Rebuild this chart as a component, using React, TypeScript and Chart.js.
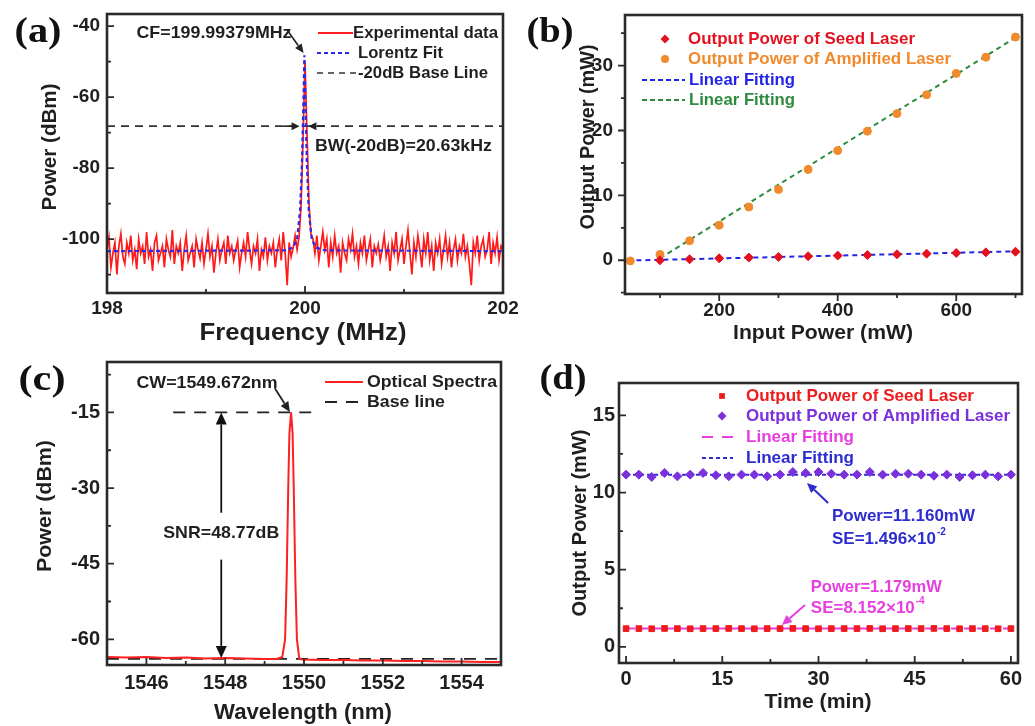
import React, { useEffect, useRef } from "react";
import { Chart, registerables } from "chart.js";

Chart.register(...registerables);

const PAGE_W = 1035;
const PAGE_H = 726;
const SANS = '"Liberation Sans", Arial, Helvetica, sans-serif';
const SERIF = '"Liberation Serif", "Times New Roman", serif';
const INK = "#1f1f1f";

// ---------- (a) RF beat-note spectrum ----------
const RF_FREQ_TICKS = [198, 200, 202];
const RF_POWER_TICKS = [-100, -80, -60, -40];
const RF_START_MHZ = 198;
const RF_STEP_MHZ = 0.02;
const RF_POWER_DBM = [
  -103, -99.5, -108, -104, -101, -110, -102, -98.5, -105, -107,
  -101, -104, -99, -106, -103, -108.5, -100, -104, -102, -107,
  -98, -105, -103, -109, -101, -99, -106, -104, -102, -108,
  -100, -103, -105, -97.5, -107, -102, -104, -101, -109, -103,
  -99, -106, -104, -102, -108, -100, -103, -105.5, -101, -107,
  -103, -98.5, -105, -102, -109.5, -104, -100, -106, -103, -101,
  -107, -99, -104, -102, -106, -103, -100.5, -108, -104, -101,
  -105, -98, -103, -107, -102, -104, -100, -109, -103, -105,
  -99.5, -106, -102, -104, -101, -108, -103, -100, -106, -98,
  -104, -113, -101, -105, -102.5, -99, -103, -99.5, -91, -72,
  -50, -70, -90, -98.5, -100, -104, -99, -106, -102, -98,
  -103, -100, -108, -101, -105, -99, -104, -102, -109.5, -101,
  -104, -106, -100, -103, -98.5, -105, -102, -107, -101, -104,
  -99, -106, -103, -100, -108, -102, -104, -101.5, -106, -103,
  -99, -105, -102, -109, -101, -104, -98, -106, -103, -100,
  -107, -102, -97.5, -104, -110, -101, -105, -99, -103, -108,
  -100, -104, -98, -106, -102, -109, -101, -104, -100, -107,
  -103, -99, -105, -101, -108, -103, -100, -106, -102, -104,
  -98.5, -105, -102, -107, -113, -101, -104, -99, -106, -102,
  -100, -105, -103, -98, -107, -101, -104, -99.5, -106, -102,
  -103,
];
const LORENTZ_FREQ_MHZ = [198, 199.8, 199.88, 199.92, 199.95, 199.97, 199.985, 199.994, 200.003, 200.018, 200.038, 200.068, 200.11, 200.2, 202];
const LORENTZ_POWER_DBM = [-103.4, -103.2, -102.4, -100, -92, -78, -60, -48.2, -60, -78, -92, -100, -102.4, -103.2, -103.4];
const RF_PEAK_MHZ = 199.99379;
const RF_PEAK_DBM = -48.2;
const RF_BASE_DBM = -68.2; // 20 dB below the peak

// ---------- (b) output power vs input power ----------
const INPUT_TICKS = [200, 400, 600];
const OUTPUT_TICKS = [0, 10, 20, 30];
const SEED_IN_MW = [100, 150, 200, 250, 300, 350, 400, 450, 500, 550, 600, 650, 700];
const SEED_OUT_MW = [0.0, 0.15, 0.3, 0.42, 0.52, 0.62, 0.72, 0.8, 0.92, 1.02, 1.12, 1.22, 1.32];
const AMP_IN_MW = [50, 100, 150, 200, 250, 300, 350, 400, 450, 500, 550, 600, 650, 700];
const AMP_OUT_MW = [-0.1, 0.9, 3.0, 5.4, 8.2, 10.9, 14.0, 16.9, 19.9, 22.6, 25.5, 28.8, 31.3, 34.4];
const SEED_FIT_IN_MW = [45, 705];
const SEED_FIT_OUT_MW = [-0.05, 1.38];
const AMP_FIT_IN_MW = [100, 705];
const AMP_FIT_OUT_MW = [0.3, 34.6];

// ---------- (c) optical spectrum ----------
const WAVELENGTH_TICKS = [1546, 1548, 1550, 1552, 1554];
const OSA_POWER_TICKS = [-60, -45, -30, -15];
const OSA_WAVELENGTH_NM = [
  1545.0, 1545.5, 1546.0, 1546.5, 1547.0, 1547.5, 1548.0, 1548.5, 1549.0, 1549.3,
  1549.45, 1549.52, 1549.56, 1549.6, 1549.63, 1549.672, 1549.71, 1549.74, 1549.78, 1549.82,
  1549.88, 1549.95, 1550.5, 1551.0, 1551.5, 1552.0, 1552.5, 1553.0, 1553.5, 1554.0, 1554.5, 1555.0,
];
const OSA_POWER_DBM = [
  -63.5, -63.6, -63.5, -63.7, -63.6, -63.8, -63.7, -63.8, -63.9, -63.9,
  -63.5, -60, -48, -30, -19, -15, -19, -30, -48, -60,
  -63.8, -64.0, -64.1, -64.1, -64.2, -64.2, -64.3, -64.3, -64.4, -64.4, -64.5, -64.5,
];
const OSA_FLOOR_DBM = -63.9;
const OSA_PEAK_DBM = -15;
const OSA_PEAK_NM = 1549.672;
const OSA_TOPLINE_NM = [1546.68, 1550.33];

// ---------- (d) power stability over one hour ----------
const TIME_TICKS = [0, 15, 30, 45, 60];
const STAB_TICKS = [0, 5, 10, 15];
const TIME_MIN = [0, 2, 4, 6, 8, 10, 12, 14, 16, 18, 20, 22, 24, 26, 28, 30, 32, 34, 36, 38, 40, 42, 44, 46, 48, 50, 52, 54, 56, 58, 60];
const SEED_STAB_MW = [1.18, 1.18, 1.17, 1.19, 1.18, 1.17, 1.18, 1.18, 1.19, 1.18, 1.17, 1.18, 1.18, 1.19, 1.18, 1.17, 1.18, 1.18, 1.18, 1.19, 1.17, 1.18, 1.18, 1.18, 1.19, 1.18, 1.17, 1.18, 1.18, 1.17, 1.18];
const AMP_STAB_MW = [11.16, 11.16, 11.01, 11.27, 11.05, 11.16, 11.27, 11.12, 11.05, 11.16, 11.16, 11.05, 11.16, 11.33, 11.27, 11.33, 11.22, 11.16, 11.16, 11.33, 11.16, 11.22, 11.22, 11.16, 11.09, 11.16, 11.01, 11.12, 11.16, 11.05, 11.16];
const SEED_MEAN_MW = 1.179;
const AMP_MEAN_MW = 11.16;

// ---------- drawing helpers ----------
type TextOpts = { size: number; color?: string; align?: CanvasTextAlign; width?: number; rotate?: boolean; family?: string; weight?: string };

function text(ctx: CanvasRenderingContext2D, str: string, x: number, y: number, o: TextOpts) {
  ctx.save();
  ctx.font = `${o.weight ?? "bold"} ${o.size}px ${o.family ?? SANS}`;
  ctx.fillStyle = o.color ?? INK;
  ctx.textBaseline = "middle";
  ctx.textAlign = o.align ?? "center";
  const m = ctx.measureText(str).width;
  const sx = o.width ? o.width / m : 1;
  ctx.translate(x, y);
  if (o.rotate) ctx.rotate(-Math.PI / 2);
  ctx.scale(sx, 1);
  ctx.fillText(str, 0, 0);
  ctx.restore();
  return m * sx;
}

function sciText(ctx: CanvasRenderingContext2D, base: string, sup: string, x: number, y: number, color: string, size: number) {
  const w = text(ctx, base, x, y, { size, color, align: "left" });
  text(ctx, sup, x + w + 1, y - size * 0.42, { size: Math.round(size * 0.6), color, align: "left" });
}

function seg(ctx: CanvasRenderingContext2D, x1: number, y1: number, x2: number, y2: number, color: string, width: number, dash: number[] = []) {
  ctx.save();
  ctx.strokeStyle = color;
  ctx.lineWidth = width;
  ctx.setLineDash(dash);
  ctx.beginPath();
  ctx.moveTo(x1, y1);
  ctx.lineTo(x2, y2);
  ctx.stroke();
  ctx.restore();
}

function arrow(ctx: CanvasRenderingContext2D, x1: number, y1: number, x2: number, y2: number, color: string, width = 1.8, head = 10, half = 4.5) {
  const a = Math.atan2(y2 - y1, x2 - x1);
  const bx = x2 - Math.cos(a) * head;
  const by = y2 - Math.sin(a) * head;
  seg(ctx, x1, y1, bx, by, color, width);
  ctx.save();
  ctx.fillStyle = color;
  ctx.beginPath();
  ctx.moveTo(x2, y2);
  ctx.lineTo(bx - Math.sin(a) * half, by + Math.cos(a) * half);
  ctx.lineTo(bx + Math.sin(a) * half, by - Math.cos(a) * half);
  ctx.closePath();
  ctx.fill();
  ctx.restore();
}

function marker(ctx: CanvasRenderingContext2D, kind: "diamond" | "circle" | "square", x: number, y: number, r: number, color: string) {
  ctx.save();
  ctx.fillStyle = color;
  ctx.beginPath();
  if (kind === "circle") ctx.arc(x, y, r, 0, Math.PI * 2);
  else if (kind === "square") ctx.rect(x - r * 0.72, y - r * 0.72, r * 1.44, r * 1.44);
  else {
    ctx.moveTo(x, y - r);
    ctx.lineTo(x + r, y);
    ctx.lineTo(x, y + r);
    ctx.lineTo(x - r, y);
    ctx.closePath();
  }
  ctx.fill();
  ctx.restore();
}

function panelLabel(ctx: CanvasRenderingContext2D, str: string, x: number, y: number) {
  text(ctx, str, x, y, { size: 36, family: SERIF, width: 47, color: "#111" });
}

// frame and tick marks drawn from the chart's own scales
function frameAndTicks(chart: any, outward: boolean) {
  const { ctx, chartArea: a, scales } = chart;
  const dir = outward ? 1 : -1;
  const minorOf = (s: any) => {
    const t = s.ticks.map((k: any) => k.value);
    const step = t[1] - t[0];
    const out: number[] = [];
    for (let v = t[0] - step / 2; v <= s.max + 1e-9; v += step) if (v >= s.min - 1e-9) out.push(v);
    return out;
  };
  const xs = scales.x;
  const ys = scales.y;
  ctx.save();
  ctx.strokeStyle = "#2a2a2a";
  ctx.lineWidth = 1.8;
  ctx.beginPath();
  for (const t of xs.ticks) {
    const p = xs.getPixelForValue(t.value);
    ctx.moveTo(p, a.bottom);
    ctx.lineTo(p, a.bottom + dir * 7);
  }
  for (const v of minorOf(xs)) {
    const p = xs.getPixelForValue(v);
    ctx.moveTo(p, a.bottom);
    ctx.lineTo(p, a.bottom + dir * 4);
  }
  for (const t of ys.ticks) {
    const p = ys.getPixelForValue(t.value);
    ctx.moveTo(a.left, p);
    ctx.lineTo(a.left - dir * 7, p);
  }
  for (const v of minorOf(ys)) {
    const p = ys.getPixelForValue(v);
    ctx.moveTo(a.left, p);
    ctx.lineTo(a.left - dir * 4, p);
  }
  ctx.stroke();
  ctx.lineWidth = 2.6;
  ctx.strokeRect(a.left, a.top, a.right - a.left, a.bottom - a.top);
  ctx.restore();
}

type Box = { l: number; t: number; r: number; b: number };
type Range = { min: number; max: number; ticks: number[]; pad: number; size: number };

const AXIS_W = 70;
const AXIS_H = 60;

function axis(r: Range, which: "x" | "y") {
  return {
    type: "linear",
    position: which === "x" ? "bottom" : "left",
    min: r.min,
    max: r.max,
    grid: { display: false, drawTicks: false },
    border: { display: false },
    afterBuildTicks: (s: any) => {
      s.ticks = r.ticks.map((value) => ({ value }));
    },
    ticks: {
      autoSkip: false,
      maxRotation: 0,
      padding: r.pad,
      color: INK,
      font: { family: SANS, size: r.size, weight: "bold" },
      callback: (v: number) => String(v),
    },
    afterFit: (s: any) => {
      if (which === "x") s.height = AXIS_H;
      else s.width = AXIS_W;
      s.paddingLeft = 0;
      s.paddingRight = 0;
      s.paddingTop = 0;
      s.paddingBottom = 0;
    },
  };
}

function options(box: Box, xr: Range, yr: Range) {
  return {
    responsive: false,
    maintainAspectRatio: false,
    animation: false,
    devicePixelRatio: 1,
    events: [],
    layout: {
      padding: { left: box.l - AXIS_W, top: box.t, right: PAGE_W - box.r, bottom: PAGE_H - box.b - AXIS_H },
    },
    plugins: { legend: { display: false }, tooltip: { enabled: false }, title: { display: false } },
    scales: { x: axis(xr, "x"), y: axis(yr, "y") },
  };
}

const lineSet = (data: { x: number; y: number }[], color: string, width: number, dash: number[], order: number) => ({
  data,
  showLine: true,
  borderColor: color,
  backgroundColor: color,
  borderWidth: width,
  borderDash: dash,
  pointRadius: 0,
  tension: 0,
  order,
});

const pairs = (xs: number[], ys: number[]) => xs.map((x, i) => ({ x, y: ys[i] }));

// ---------- panel (a) ----------
function makeRF(canvas: HTMLCanvasElement) {
  const rf = RF_POWER_DBM.map((y, i) => ({ x: RF_START_MHZ + i * RF_STEP_MHZ, y }));
  const plugin = {
    id: "rfDecor",
    afterDatasetsDraw(chart: any) {
      frameAndTicks(chart, false);
    },
    afterDraw(chart: any) {
      const { ctx } = chart;
      const px = (v: number) => chart.scales.x.getPixelForValue(v);
      const py = (v: number) => chart.scales.y.getPixelForValue(v);
      panelLabel(ctx, "(a)", 38, 33);
      text(ctx, "Power (dBm)", 50, 147, { size: 21, width: 127, rotate: true });
      text(ctx, "Frequency (MHz)", 303, 333, { size: 24, width: 207 });
      // legend
      seg(ctx, 318, 33, 353, 33, "#ff2020", 2);
      text(ctx, "Experimental data", 353, 33, { size: 17, width: 145, align: "left" });
      seg(ctx, 317, 53, 352, 53, "#2a2ae8", 2.2, [4, 3]);
      text(ctx, "Lorentz Fit", 358, 53, { size: 17, width: 85, align: "left" });
      seg(ctx, 317, 73, 357, 73, "#333", 1.6, [6, 5]);
      text(ctx, "-20dB Base Line", 358, 73, { size: 17, width: 130, align: "left" });
      // centre frequency
      text(ctx, "CF=" + RF_PEAK_MHZ.toFixed(5) + "MHz", 214, 33, { size: 17, width: 155 });
      arrow(ctx, px(199.82), py(-41.1), px(RF_PEAK_MHZ - 0.008), py(RF_PEAK_DBM + 0.6), "#222", 1.6, 9, 4);
      // -20 dB bandwidth
      arrow(ctx, px(199.78), py(RF_BASE_DBM), px(199.945), py(RF_BASE_DBM), "#222", 1.6, 8, 4);
      arrow(ctx, px(200.2), py(RF_BASE_DBM), px(200.035), py(RF_BASE_DBM), "#222", 1.6, 8, 4);
      text(ctx, "BW(-20dB)=20.63kHz", px(200.1), py(-73.8), { size: 17, width: 177, align: "left" });
    },
  };
  return new Chart(canvas, {
    type: "scatter",
    data: {
      datasets: [
        lineSet(pairs(LORENTZ_FREQ_MHZ, LORENTZ_POWER_DBM), "#2a2ae8", 2.2, [4, 3], 0),
        lineSet(rf, "#ff1a1a", 1.7, [], 2),
        lineSet(pairs([198, 202], [RF_BASE_DBM, RF_BASE_DBM]), "#333", 1.6, [8, 6], 1),
      ],
    },
    options: options({ l: 107, t: 14, r: 503, b: 293 }, { min: 198, max: 202, ticks: RF_FREQ_TICKS, pad: 4, size: 19 }, { min: -115.2, max: -36.6, ticks: RF_POWER_TICKS, pad: 7, size: 19 }),
    plugins: [plugin],
  } as any);
}

// ---------- panel (b) ----------
function makeSlope(canvas: HTMLCanvasElement) {
  const RED = "#e2131f", ORANGE = "#f08a2c", BLUE = "#2424e8", GREEN = "#2e8a3c";
  const plugin = {
    id: "slopeDecor",
    afterDatasetsDraw(chart: any) {
      frameAndTicks(chart, true);
    },
    afterDraw(chart: any) {
      const { ctx } = chart;
      panelLabel(ctx, "(b)", 550, 33);
      text(ctx, "Output Power (mW)", 588, 137, { size: 20, width: 185, rotate: true });
      text(ctx, "Input Power (mW)", 823, 333, { size: 20, width: 180 });
      marker(ctx, "diamond", 665, 39, 4.5, RED);
      text(ctx, "Output Power of Seed Laser", 688, 39, { size: 17, width: 227, align: "left", color: RED });
      marker(ctx, "circle", 665, 59, 4, ORANGE);
      text(ctx, "Output Power of Amplified Laser", 688, 59, { size: 17, width: 263, align: "left", color: ORANGE });
      seg(ctx, 642, 80, 685, 80, BLUE, 2, [5, 3]);
      text(ctx, "Linear Fitting", 689, 80, { size: 17, width: 106, align: "left", color: BLUE });
      seg(ctx, 642, 100, 685, 100, GREEN, 2, [5, 3]);
      text(ctx, "Linear Fitting", 689, 100, { size: 17, width: 106, align: "left", color: GREEN });
    },
  };
  return new Chart(canvas, {
    type: "scatter",
    data: {
      datasets: [
        { data: pairs(SEED_IN_MW, SEED_OUT_MW), pointStyle: "rectRot", pointRadius: 4.5, backgroundColor: RED, borderColor: RED, borderWidth: 1, order: 0 },
        { data: pairs(AMP_IN_MW, AMP_OUT_MW), pointStyle: "circle", pointRadius: 4, backgroundColor: ORANGE, borderColor: ORANGE, borderWidth: 1, order: 1 },
        lineSet(pairs(SEED_FIT_IN_MW, SEED_FIT_OUT_MW), BLUE, 2, [5, 4], 2),
        lineSet(pairs(AMP_FIT_IN_MW, AMP_FIT_OUT_MW), GREEN, 2, [5, 4], 3),
      ],
    },
    options: options({ l: 625, t: 15, r: 1022, b: 294 }, { min: 41, max: 711, ticks: INPUT_TICKS, pad: 5, size: 19 }, { min: -5.2, max: 37.8, ticks: OUTPUT_TICKS, pad: 12, size: 19 }),
    plugins: [plugin],
  } as any);
}

// ---------- panel (c) ----------
function makeOSA(canvas: HTMLCanvasElement) {
  const plugin = {
    id: "osaDecor",
    afterDatasetsDraw(chart: any) {
      frameAndTicks(chart, false);
    },
    afterDraw(chart: any) {
      const { ctx } = chart;
      const px = (v: number) => chart.scales.x.getPixelForValue(v);
      const py = (v: number) => chart.scales.y.getPixelForValue(v);
      panelLabel(ctx, "(c)", 42, 381);
      text(ctx, "Power (dBm)", 45, 506, { size: 21, width: 132, rotate: true });
      text(ctx, "Wavelength (nm)", 303, 713, { size: 22, width: 178 });
      seg(ctx, 325, 382, 363, 382, "#ff2020", 2);
      text(ctx, "Optical Spectra", 367, 382, { size: 17, width: 130, align: "left" });
      seg(ctx, 325, 402, 358, 402, "#222", 1.8, [12, 9]);
      text(ctx, "Base line", 367, 402, { size: 17, width: 78, align: "left" });
      text(ctx, "CW=" + OSA_PEAK_NM.toFixed(3) + "nm", 207, 383, { size: 17, width: 141 });
      arrow(ctx, px(1549.26), py(-10.2), px(OSA_PEAK_NM - 0.03), py(OSA_PEAK_DBM + 0.1), "#222", 1.8, 10, 4.5);
      const ax = px(1547.9);
      arrow(ctx, ax, py(-34.9), ax, py(OSA_PEAK_DBM), "#111", 1.8, 12, 5.5);
      arrow(ctx, ax, py(-44.2), ax, py(-63.7), "#111", 1.8, 12, 5.5);
      text(ctx, "SNR=48.77dB", ax, py(-38.9), { size: 17, width: 116 });
    },
  };
  return new Chart(canvas, {
    type: "scatter",
    data: {
      datasets: [
        lineSet(pairs(OSA_WAVELENGTH_NM, OSA_POWER_DBM), "#ff2020", 2, [], 0),
        lineSet(pairs([1545, 1555], [OSA_FLOOR_DBM, OSA_FLOOR_DBM]), "#222", 1.8, [12, 9], 1),
        lineSet(pairs(OSA_TOPLINE_NM, [OSA_PEAK_DBM, OSA_PEAK_DBM]), "#222", 1.8, [12, 9], 2),
      ],
    },
    options: options({ l: 107, t: 362, r: 501, b: 665 }, { min: 1545, max: 1555, ticks: WAVELENGTH_TICKS, pad: 6, size: 20 }, { min: -65.1, max: -5, ticks: OSA_POWER_TICKS, pad: 7, size: 20 }),
    plugins: [plugin],
  } as any);
}

// ---------- panel (d) ----------
function makeStability(canvas: HTMLCanvasElement) {
  const RED = "#ee1c1c", PURPLE = "#7a30dc", MAGENTA = "#e83ee0", BLUE = "#2c2cd0";
  const plugin = {
    id: "stabDecor",
    afterDatasetsDraw(chart: any) {
      frameAndTicks(chart, false);
    },
    afterDraw(chart: any) {
      const { ctx } = chart;
      const px = (v: number) => chart.scales.x.getPixelForValue(v);
      const py = (v: number) => chart.scales.y.getPixelForValue(v);
      panelLabel(ctx, "(d)", 563, 380);
      text(ctx, "Output Power (mW)", 580, 523, { size: 21, width: 187, rotate: true });
      text(ctx, "Time (min)", 818, 702, { size: 21, width: 107 });
      marker(ctx, "square", 722, 396, 4, RED);
      text(ctx, "Output Power of Seed Laser", 746, 396, { size: 17, width: 228, align: "left", color: RED });
      marker(ctx, "diamond", 722, 416, 4.5, PURPLE);
      text(ctx, "Output Power of Amplified Laser", 746, 416, { size: 17, width: 264, align: "left", color: PURPLE });
      seg(ctx, 702, 437, 733, 437, MAGENTA, 2, [11, 9]);
      text(ctx, "Linear Fitting", 746, 437, { size: 17, width: 108, align: "left", color: MAGENTA });
      seg(ctx, 702, 458, 733, 458, BLUE, 2, [4, 3]);
      text(ctx, "Linear Fitting", 746, 458, { size: 17, width: 108, align: "left", color: BLUE });
      // fitted mean of the amplified output
      arrow(ctx, px(31.5), py(9.32), px(28.2), py(10.62), BLUE, 2, 10, 4.5);
      text(ctx, "Power=" + AMP_MEAN_MW.toFixed(3) + "mW", px(32.1), py(8.48), { size: 17, width: 143, align: "left", color: BLUE });
      sciText(ctx, "SE=1.496×10", "-2", px(32.1), py(6.99), BLUE, 17);
      // fitted mean of the seed output
      arrow(ctx, px(27.9), py(2.71), px(24.3), py(1.41), MAGENTA, 2, 10, 4.5);
      text(ctx, "Power=" + SEED_MEAN_MW.toFixed(3) + "mW", px(28.8), py(3.88), { size: 17, width: 131, align: "left", color: MAGENTA });
      sciText(ctx, "SE=8.152×10", "-4", px(28.8), py(2.52), MAGENTA, 17);
    },
  };
  return new Chart(canvas, {
    type: "scatter",
    data: {
      datasets: [
        { data: pairs(TIME_MIN, AMP_STAB_MW), pointStyle: "rectRot", pointRadius: 4.5, backgroundColor: PURPLE, borderColor: PURPLE, borderWidth: 1, order: 0 },
        { data: pairs(TIME_MIN, SEED_STAB_MW), pointStyle: "rect", pointRadius: 4, backgroundColor: RED, borderColor: RED, borderWidth: 1, order: 1 },
        lineSet(pairs([0, 60], [AMP_MEAN_MW, AMP_MEAN_MW]), BLUE, 2, [4, 3], 2),
        lineSet(pairs([0, 60], [SEED_MEAN_MW, SEED_MEAN_MW]), MAGENTA, 2, [9, 4], 3),
      ],
    },
    options: options({ l: 619, t: 383, r: 1018, b: 663 }, { min: -1.1, max: 61.1, ticks: TIME_TICKS, pad: 4, size: 20 }, { min: -1.05, max: 17.1, ticks: STAB_TICKS, pad: 4, size: 20 }),
    plugins: [plugin],
  } as any);
}

export default function App() {
  const a = useRef<HTMLCanvasElement>(null);
  const b = useRef<HTMLCanvasElement>(null);
  const c = useRef<HTMLCanvasElement>(null);
  const d = useRef<HTMLCanvasElement>(null);

  useEffect(() => {
    const charts = [makeRF(a.current!), makeSlope(b.current!), makeOSA(c.current!), makeStability(d.current!)];
    return () => charts.forEach((ch) => ch.destroy());
  }, []);

  const style: React.CSSProperties = { position: "absolute", left: 0, top: 0, width: PAGE_W, height: PAGE_H };
  return (
    <div style={{ position: "fixed", left: 0, top: 0, width: PAGE_W, height: PAGE_H, background: "#fff", overflow: "hidden" }}>
      <canvas ref={a} width={PAGE_W} height={PAGE_H} style={style} />
      <canvas ref={b} width={PAGE_W} height={PAGE_H} style={style} />
      <canvas ref={c} width={PAGE_W} height={PAGE_H} style={style} />
      <canvas ref={d} width={PAGE_W} height={PAGE_H} style={style} />
    </div>
  );
}
